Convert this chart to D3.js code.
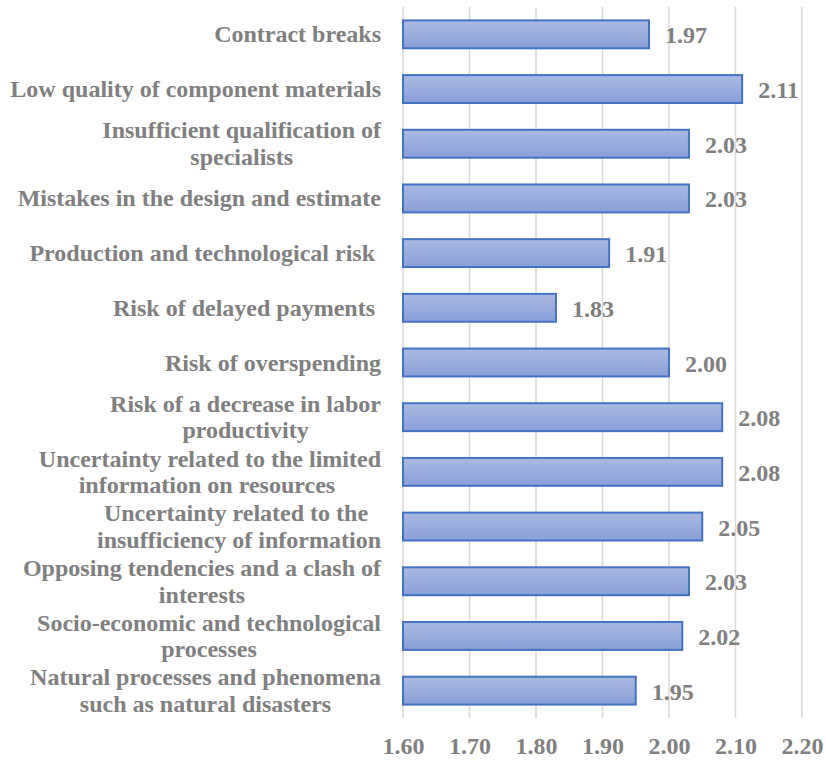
<!DOCTYPE html>
<html>
<head>
<meta charset="utf-8">
<script src="https://cdn.jsdelivr.net/npm/d3@7"></script>
<style>
  html, body { margin: 0; padding: 0; background: #ffffff; }
  svg { display: block; }
  text { font-family: "Liberation Serif", "Times New Roman", serif; font-weight: bold; fill: #808080; }
</style>
</head>
<body>
<svg id="chart" width="826" height="762"></svg>
<script>
// Risk factors (top to bottom) and their mean scores
const categories = [
  ["Contract breaks"],
  ["Low quality of component materials"],
  ["Insufficient qualification of", "specialists"],
  ["Mistakes in the design and estimate"],
  ["Production and technological risk "],
  ["Risk of delayed payments "],
  ["Risk of overspending"],
  ["Risk of a decrease in labor", "productivity"],
  ["Uncertainty related to the limited", "information on resources "],
  ["Uncertainty related to the ", "insufficiency of information"],
  ["Opposing tendencies and a clash of", "interests"],
  ["Socio-economic and technological", "processes"],
  ["Natural processes and phenomena", "such as natural disasters"]
];
const values = [1.97, 2.11, 2.03, 2.03, 1.91, 1.83, 2.00, 2.08, 2.08, 2.05, 2.03, 2.02, 1.95];
const xTicks = [1.60, 1.70, 1.80, 1.90, 2.00, 2.10, 2.20];

const svg = d3.select("#chart");
const margin = { left: 403, right: 24, top: 7, bottom: 44 };
const W = 826, H = 762;
const fontSize = 24;

const x = d3.scaleLinear().domain([1.6, 2.2]).range([margin.left, W - margin.right]);
const y = d3.scaleBand()
  .domain(d3.range(categories.length))
  .range([margin.top, H - margin.bottom])
  .paddingInner(0.49).paddingOuter(0.245);

// bar gradient
const defs = svg.append("defs");
const grad = defs.append("linearGradient").attr("id", "barGrad")
  .attr("x1", 0).attr("y1", 0).attr("x2", 0).attr("y2", 1);
grad.append("stop").attr("offset", "0%").attr("stop-color", "#abb9e1");
grad.append("stop").attr("offset", "100%").attr("stop-color", "#889fd8");

// vertical gridlines
svg.append("g").selectAll("line").data(xTicks).join("line")
  .attr("x1", d => x(d)).attr("x2", d => x(d))
  .attr("y1", margin.top).attr("y2", H - margin.bottom)
  .attr("stroke", "#d9d9d9").attr("stroke-width", 1.5);

// x axis labels
const xAxis = d3.axisBottom(x).tickValues(xTicks).tickFormat(d3.format(".2f")).tickSize(0).tickPadding(0);
const gx = svg.append("g").attr("transform", `translate(0,${H - margin.bottom})`).call(xAxis);
gx.select(".domain").remove();
gx.selectAll("text")
  .attr("dy", null).attr("y", 36)
  .style("font-size", fontSize + "px")
  .attr("fill", "#808080");

// bars
const bh = y.bandwidth();
svg.append("g").selectAll("rect").data(values).join("rect")
  .attr("x", x(1.6))
  .attr("y", (d, i) => y(i))
  .attr("width", d => x(d) - x(1.6))
  .attr("height", bh)
  .attr("fill", "url(#barGrad)")
  .attr("stroke", "#4472c4")
  .attr("stroke-width", 2);

// value labels
svg.append("g").selectAll("text").data(values).join("text")
  .attr("x", d => x(d) + 16)
  .attr("y", (d, i) => y(i) + bh / 2 + 9)
  .style("font-size", fontSize + "px")
  .text(d => d3.format(".2f")(d));

// category labels: lines centred on each other, block right-aligned
const lineH = 26.5;
const labelRight = 381;
const lg = svg.append("g");
categories.forEach((lines, i) => {
  const cy = y(i) + bh / 2;
  const g = lg.append("g");
  const texts = lines.map((s, k) => g.append("text")
    .style("font-size", fontSize + "px")
    .style("white-space", "pre")
    .attr("xml:space", "preserve")
    .attr("y", cy + (k - (lines.length - 1) / 2) * lineH + 8)
    .text(s));
  const widths = texts.map(t => t.node().getComputedTextLength());
  const maxW = d3.max(widths);
  if (lines.length === 1) {
    texts[0].attr("x", labelRight).attr("text-anchor", "end");
  } else {
    texts.forEach(t => t.attr("x", labelRight - maxW / 2).attr("text-anchor", "middle"));
  }
});
</script>
</body>
</html>
